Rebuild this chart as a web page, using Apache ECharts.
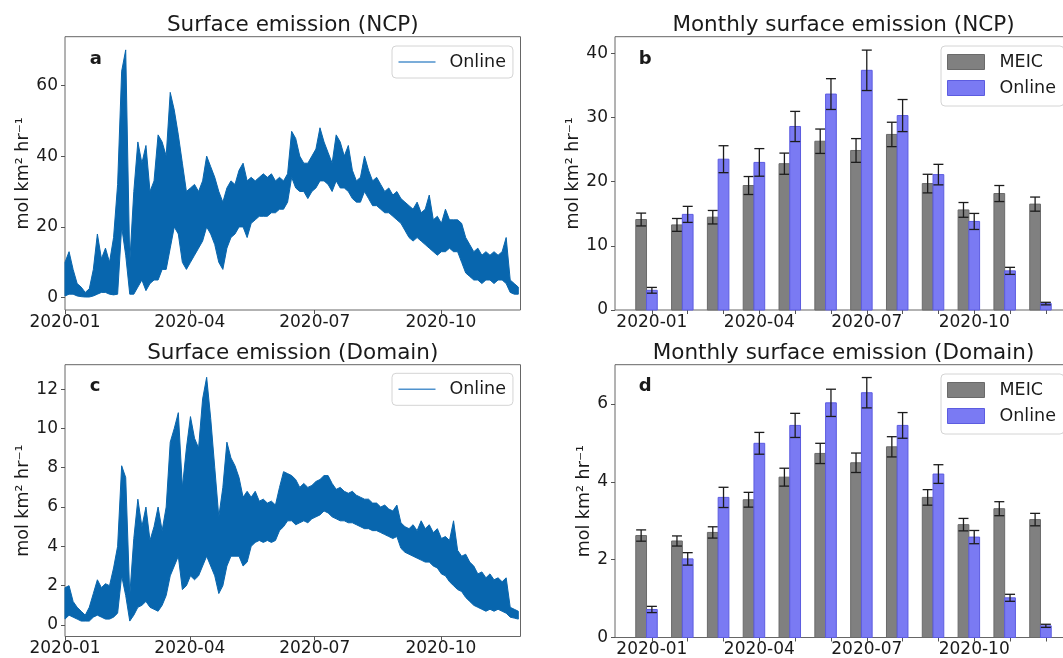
<!DOCTYPE html>
<html>
<head>
<meta charset="utf-8">
<script src="https://cdn.jsdelivr.net/npm/echarts@6.0.0/dist/echarts.min.js"></script>
<style>html,body{margin:0;padding:0;background:#fff}#c{width:1063px;height:658px}</style>
</head>
<body>
<div id="c"></div>
<script>
// ---------------- DATA ----------------
// Hourly series shown as an envelope: low / high of the band, one sample every SAMPLE_STEP_DAYS from 2020-01-01
const SAMPLE_STEP_DAYS = 2.95;
const ncpLow = [
  0.5, 1, 1, 0.5, 0.3, 0.2, 0.2, 0.5, 1, 1.5,
  1.5, 1, 0.8, 1, 20, 12, 1, 1, 3, 5,
  2, 4, 5, 5, 8, 8, 14, 20, 18, 10,
  8, 10, 12, 14, 16, 20, 18, 15, 10, 8,
  14, 17, 18, 20, 20, 17, 21, 22, 23, 23,
  23, 24, 24, 25, 25, 27, 34, 31, 30, 30,
  28, 30, 31, 33, 33, 32, 30, 33, 31, 31,
  30, 28, 27, 27, 30, 28, 26, 26, 25, 24,
  24, 23, 22, 21, 19, 17, 16, 17, 16, 15,
  14, 13, 12, 13, 13, 14, 13, 13, 10, 7,
  6, 5, 5, 4, 5, 5, 4, 5, 5, 4,
  1.5, 1, 1
];
const ncpHigh = [
  10, 13, 8, 4, 3, 1.5, 2.5, 8, 18, 11,
  14, 10, 17, 32, 64, 70, 10, 30, 44, 38,
  43, 30, 33, 46, 44, 40, 58, 53, 46, 38,
  30, 31, 32, 30, 33, 40, 37, 34, 30, 27,
  31, 33, 32, 36, 38, 33, 34, 33, 34, 35,
  34, 35, 33, 34, 33, 35, 47, 45, 40, 38,
  38, 40, 42, 48, 44, 41, 38, 46, 44, 40,
  43, 36, 33, 34, 40, 36, 33, 34, 32, 30,
  31, 29, 30, 28, 27, 26, 25, 27, 24, 25,
  29, 22, 23, 21, 25, 22, 22, 22, 21, 17,
  15, 13, 14, 12, 13, 12, 13, 12, 13, 17,
  5, 4, 3
];
const domLow = [
  0.3, 0.5, 0.4, 0.3, 0.2, 0.2, 0.2, 0.4, 0.5, 0.4,
  0.3, 0.3, 0.4, 0.6, 2.5, 1.5, 0.2, 0.5, 0.9, 1.0,
  1.2, 0.9, 0.8, 0.7, 1.0, 1.5, 2.5, 3.0, 3.5, 1.8,
  2.0, 2.5, 2.3, 2.5, 3.0, 3.5, 3.0, 2.5, 1.6, 2.0,
  3.0, 3.5, 3.5, 3.5, 3.0, 3.2, 4.0, 4.2, 4.3, 4.2,
  4.3, 4.2, 4.3, 4.8, 5.0, 5.3, 5.3, 5.1, 5.2, 5.3,
  5.2, 5.4, 5.5, 5.6, 5.8, 5.7, 5.5, 5.4, 5.3, 5.3,
  5.2, 5.2, 5.1, 5.0, 4.9, 4.9, 4.8, 4.8, 4.7, 4.6,
  4.5, 4.4, 4.5, 3.9, 3.7, 3.6, 3.5, 3.4, 3.3, 3.2,
  3.2, 3.0, 2.9, 2.6, 2.5, 2.2, 2.0, 1.8, 1.7, 1.4,
  1.2, 1.0, 0.9, 0.8, 0.7, 0.8, 0.7, 0.8, 0.7, 0.6,
  0.4, 0.35, 0.3
];
const domHigh = [
  1.9, 2.0, 1.2, 0.9, 0.7, 0.5, 0.9, 1.6, 2.3, 1.9,
  2.1, 2.0, 2.9, 4.0, 8.1, 7.5, 1.5, 4.4, 6.4, 5.0,
  6.0, 4.3, 5.0, 6.0, 4.8, 6.0, 9.3, 10.0, 10.8, 7.0,
  9.0, 10.6, 9.5, 9.0, 11.5, 12.6, 10.5, 8.0, 5.5, 7.0,
  9.3, 8.5, 8.1, 7.5, 6.5, 6.8, 6.5, 6.8, 6.3, 6.4,
  6.2, 6.3, 6.1, 7.0, 7.8, 7.7, 7.6, 7.4, 7.0, 7.2,
  7.0, 7.1, 7.3, 7.4, 7.6, 7.6, 7.2, 6.9, 7.0, 6.8,
  6.7, 6.8, 6.6, 6.5, 6.4, 6.4, 6.2, 6.2, 6.0, 6.1,
  5.9, 5.8, 6.1, 5.2, 5.0, 4.9, 5.1, 4.8, 5.3, 4.9,
  5.1, 4.7, 4.9, 4.4, 4.5, 4.3, 5.3, 3.8, 3.5, 3.6,
  3.2, 3.0, 2.6, 2.7, 2.4, 2.6, 2.3, 2.4, 2.2, 2.4,
  0.9, 0.8, 0.7
];

// Monthly bars
const months = ['2020-01','2020-02','2020-03','2020-04','2020-05','2020-06',
                '2020-07','2020-08','2020-09','2020-10','2020-11','2020-12'];
const meicNcp      = [14.1, 13.26, 14.46, 19.4, 22.8, 26.3, 24.86, 27.36, 19.7, 15.6, 18.15, 16.5];
const meicNcpErr   = [1.0, 1.0, 1.05, 1.4, 1.65, 1.9, 1.85, 1.9, 1.45, 1.15, 1.25, 1.1];
const onlineNcp    = [3.07, 14.9, 23.5, 23.0, 28.6, 33.65, 37.35, 30.3, 21.1, 13.8, 6.1, 1.0];
const onlineNcpErr = [0.45, 1.25, 2.1, 2.15, 2.35, 2.4, 3.15, 2.5, 1.6, 1.25, 0.55, 0.2];
const meicDom      = [2.62, 2.48, 2.7, 3.54, 4.12, 4.73, 4.49, 4.9, 3.6, 2.9, 3.31, 3.03];
const meicDomErr   = [0.145, 0.13, 0.145, 0.19, 0.23, 0.26, 0.25, 0.26, 0.2, 0.16, 0.18, 0.16];
const onlineDom    = [0.72, 2.02, 3.6, 4.99, 5.45, 6.03, 6.29, 5.45, 4.2, 2.58, 1.02, 0.3];
const onlineDomErr = [0.08, 0.16, 0.26, 0.28, 0.31, 0.35, 0.39, 0.33, 0.24, 0.17, 0.09, 0.04];

// Tick labels
const dateTickLabels = ['2020-01', '2020-04', '2020-07', '2020-10'];
const ncpTicks    = [0, 20, 40, 60];
const ncpMonTicks = [0, 10, 20, 30, 40];
const domTicks    = [0, 2, 4, 6, 8, 10, 12];
const domMonTicks = [0, 2, 4, 6];
const yName = 'mol km² hr⁻¹';

// ---------------- LAYOUT / STYLE ----------------
const FONT = 'DejaVu Sans';
const TXT = '#1a1a1a';
const AXC = '#555';
const BLUE = '#0866ae';
const MEIC_FILL = '#808080', MEIC_EDGE = '#6a6a6a';
const ONL_FILL = '#7a7af3', ONL_EDGE = '#5c5ce0';
const DAY = 86400000;
const TS_SPAN_DAYS = 332;
const BAR_W = 0.3;

function parseMonth(s) { const p = s.split('-').map(Number); return Date.UTC(p[0], p[1] - 1, 1); }
const T0 = parseMonth('2020-01');
// x of the time series = days since 2020-01-01
const dayOf = s => Math.round((parseMonth(s) - T0) / DAY);
const sampleDay = i => i * SAMPLE_STEP_DAYS;
const dateTickDays = dateTickLabels.map(dayOf);
const monthTickIdx = months.map((m, i) => i);
const monthLabelIdx = dateTickLabels.map(s => months.indexOf(s));

const labelStyle = { fontFamily: FONT, fontSize: 17, color: TXT };

const grids = [
  { left: 65,  top: 36.7,  width: 455.5, height: 273.3 },
  { left: 615, top: 36.7,  width: 457,   height: 273.3 },
  { left: 65,  top: 364.7, width: 455.5, height: 271.8 },
  { left: 615, top: 364.7, width: 457,   height: 272.8 }
].map(g => Object.assign(g, { show: true, borderColor: '#666', borderWidth: 1,
  backgroundColor: 'transparent', containLabel: false, outerBoundsMode: 'none' }));

function tsX(gi) {
  return { type: 'value', gridIndex: gi, min: 0, max: TS_SPAN_DAYS,
    axisLine: { show: false, onZero: false }, splitLine: { show: false },
    axisTick: { show: true, length: 4, lineStyle: { color: AXC }, customValues: dateTickDays },
    axisLabel: Object.assign({ customValues: dateTickDays, hideOverlap: false, margin: 4,
      formatter: v => dateTickLabels[dateTickDays.indexOf(Math.round(v))] || '' }, labelStyle) };
}
function monX(gi) {
  return { type: 'value', gridIndex: gi, min: -1.03, max: 11.73,
    axisLine: { show: false, onZero: false }, splitLine: { show: false },
    axisTick: { show: true, length: 4, lineStyle: { color: AXC }, customValues: monthTickIdx },
    axisLabel: Object.assign({ customValues: monthLabelIdx, hideOverlap: false, margin: 4,
      formatter: v => months[Math.round(v)] || '' }, labelStyle) };
}
function yAx(gi, min, max, ticks, gap) {
  return { type: 'value', gridIndex: gi, min, max,
    name: yName, nameLocation: 'middle', nameRotate: 90, nameGap: gap,
    nameTextStyle: { fontFamily: FONT, fontSize: 17.5, color: TXT },
    axisLine: { show: false, onZero: false }, splitLine: { show: false },
    axisTick: { show: true, length: 4, lineStyle: { color: AXC }, customValues: ticks },
    axisLabel: Object.assign({ customValues: ticks, margin: 7, hideOverlap: false }, labelStyle) };
}

// band between the low and high envelope, drawn as one polygon through the axis scales
function band(name, gi, low, high) {
  return {
    type: 'custom', name, xAxisIndex: gi, yAxisIndex: gi, silent: true,
    itemStyle: { color: BLUE },
    data: low.map((v, i) => [sampleDay(i), v, high[i]]),
    encode: { x: 0, y: [1, 2] },
    renderItem(params, api) {
      if (params.dataIndex !== 0) return null;
      const upper = high.map((v, i) => api.coord([sampleDay(i), v]));
      const lower = low.map((v, i) => api.coord([sampleDay(i), v])).reverse();
      return { type: 'polygon', shape: { points: upper.concat(lower) },
        style: { fill: BLUE, stroke: BLUE, lineWidth: 1, lineJoin: 'miter' } };
    }
  };
}

function bars(name, gi, vals, errs, offset, fill, edge) {
  return {
    type: 'custom', name, xAxisIndex: gi, yAxisIndex: gi,
    itemStyle: { color: fill, borderColor: edge, borderWidth: 1 },
    data: vals.map((v, i) => [i, v, errs[i]]),
    encode: { x: 0, y: 1 },
    renderItem(params, api) {
      const c = api.value(0) + offset, v = api.value(1), e = api.value(2);
      const p0 = api.coord([c - BAR_W / 2, v]);
      const p1 = api.coord([c + BAR_W / 2, 0]);
      const top = api.coord([c, v + e]);
      const bot = api.coord([c, v - e]);
      const cx = (p0[0] + p1[0]) / 2;
      const cap = 5;
      const es = { stroke: '#1c1c1c', lineWidth: 1.3 };
      return { type: 'group', children: [
        { type: 'rect', shape: { x: p0[0], y: p0[1], width: p1[0] - p0[0], height: p1[1] - p0[1] },
          style: { fill: fill, stroke: edge, lineWidth: 1 } },
        { type: 'line', shape: { x1: cx, y1: top[1], x2: cx, y2: bot[1] }, style: es },
        { type: 'line', shape: { x1: cx - cap, y1: top[1], x2: cx + cap, y2: top[1] }, style: es },
        { type: 'line', shape: { x1: cx - cap, y1: bot[1], x2: cx + cap, y2: bot[1] }, style: es }
      ] };
    }
  };
}

const legendBox = { backgroundColor: 'rgba(255,255,255,0.85)', borderColor: '#d4d4d4', borderWidth: 1,
  borderRadius: 4, selectedMode: false, formatter: n => n.split('_')[0] };
function lineLegend(name, top) {
  return Object.assign({}, legendBox, { left: 392, top, orient: 'vertical',
    itemWidth: 37, itemHeight: 1.6, padding: [7, 7, 7, 6.5],
    textStyle: { fontFamily: FONT, fontSize: 17.5, color: TXT, padding: [0, 0, 0, 9], lineHeight: 18 },
    data: [{ name, icon: 'rect', itemStyle: { color: '#4f92cd', borderWidth: 0 } }] });
}
function barLegend(n1, n2, top) {
  return Object.assign({}, legendBox, { left: 941, top, orient: 'vertical',
    itemWidth: 37, itemHeight: 15, itemGap: 8, padding: [7, 8, 9, 6],
    textStyle: { fontFamily: FONT, fontSize: 17.5, color: TXT, padding: [0, 0, 0, 10], lineHeight: 18 },
    data: [
      { name: n1, icon: 'rect', itemStyle: { color: MEIC_FILL, borderColor: MEIC_EDGE, borderWidth: 1 } },
      { name: n2, icon: 'rect', itemStyle: { color: ONL_FILL, borderColor: ONL_EDGE, borderWidth: 1 } }
    ] });
}

function txt(text, x, y, size, bold, align) {
  return { type: 'text', x, y, z: 100, silent: true,
    style: { text, fill: TXT, font: (bold ? 'bold ' : '') + size + 'px "' + FONT + '"',
      textAlign: align || 'center', textVerticalAlign: 'middle' } };
}

const option = {
  animation: false,
  backgroundColor: '#fff',
  grid: grids,
  xAxis: [tsX(0), monX(1), tsX(2), monX(3)],
  yAxis: [
    yAx(0, -3.47, 73.73, ncpTicks, 28),
    yAx(1, 0, 42.59, ncpMonTicks, 32),
    yAx(2, -0.585, 13.24, domTicks, 28),
    yAx(3, 0, 7.01, domMonTicks, 19)
  ],
  legend: [
    lineLegend('Online_a', 46),
    barLegend('MEIC_b', 'Online_b', 46),
    lineLegend('Online_c', 373.3),
    barLegend('MEIC_d', 'Online_d', 374)
  ],
  series: [
    band('Online_a', 0, ncpLow, ncpHigh),
    bars('MEIC_b', 1, meicNcp, meicNcpErr, -BAR_W, MEIC_FILL, MEIC_EDGE),
    bars('Online_b', 1, onlineNcp, onlineNcpErr, 0, ONL_FILL, ONL_EDGE),
    band('Online_c', 2, domLow, domHigh),
    bars('MEIC_d', 3, meicDom, meicDomErr, -BAR_W, MEIC_FILL, MEIC_EDGE),
    bars('Online_d', 3, onlineDom, onlineDomErr, 0, ONL_FILL, ONL_EDGE)
  ],
  graphic: [
    txt('Surface emission (NCP)', 292.75, 25.6, 21.5),
    txt('Monthly surface emission (NCP)', 843.5, 25.6, 21.5),
    txt('Surface emission (Domain)', 292.75, 353.3, 21.5),
    txt('Monthly surface emission (Domain)', 843.5, 353.3, 21.5),
    txt('a', 89.7, 59.4, 18, true, 'left'),
    txt('b', 638.7, 59.1, 18, true, 'left'),
    txt('c', 89.7, 386.4, 18, true, 'left'),
    txt('d', 638.7, 386.4, 18, true, 'left')
  ]
};

const chart = echarts.init(document.getElementById('c'), null, { renderer: 'canvas' });
chart.setOption(option);
</script>
</body>
</html>
